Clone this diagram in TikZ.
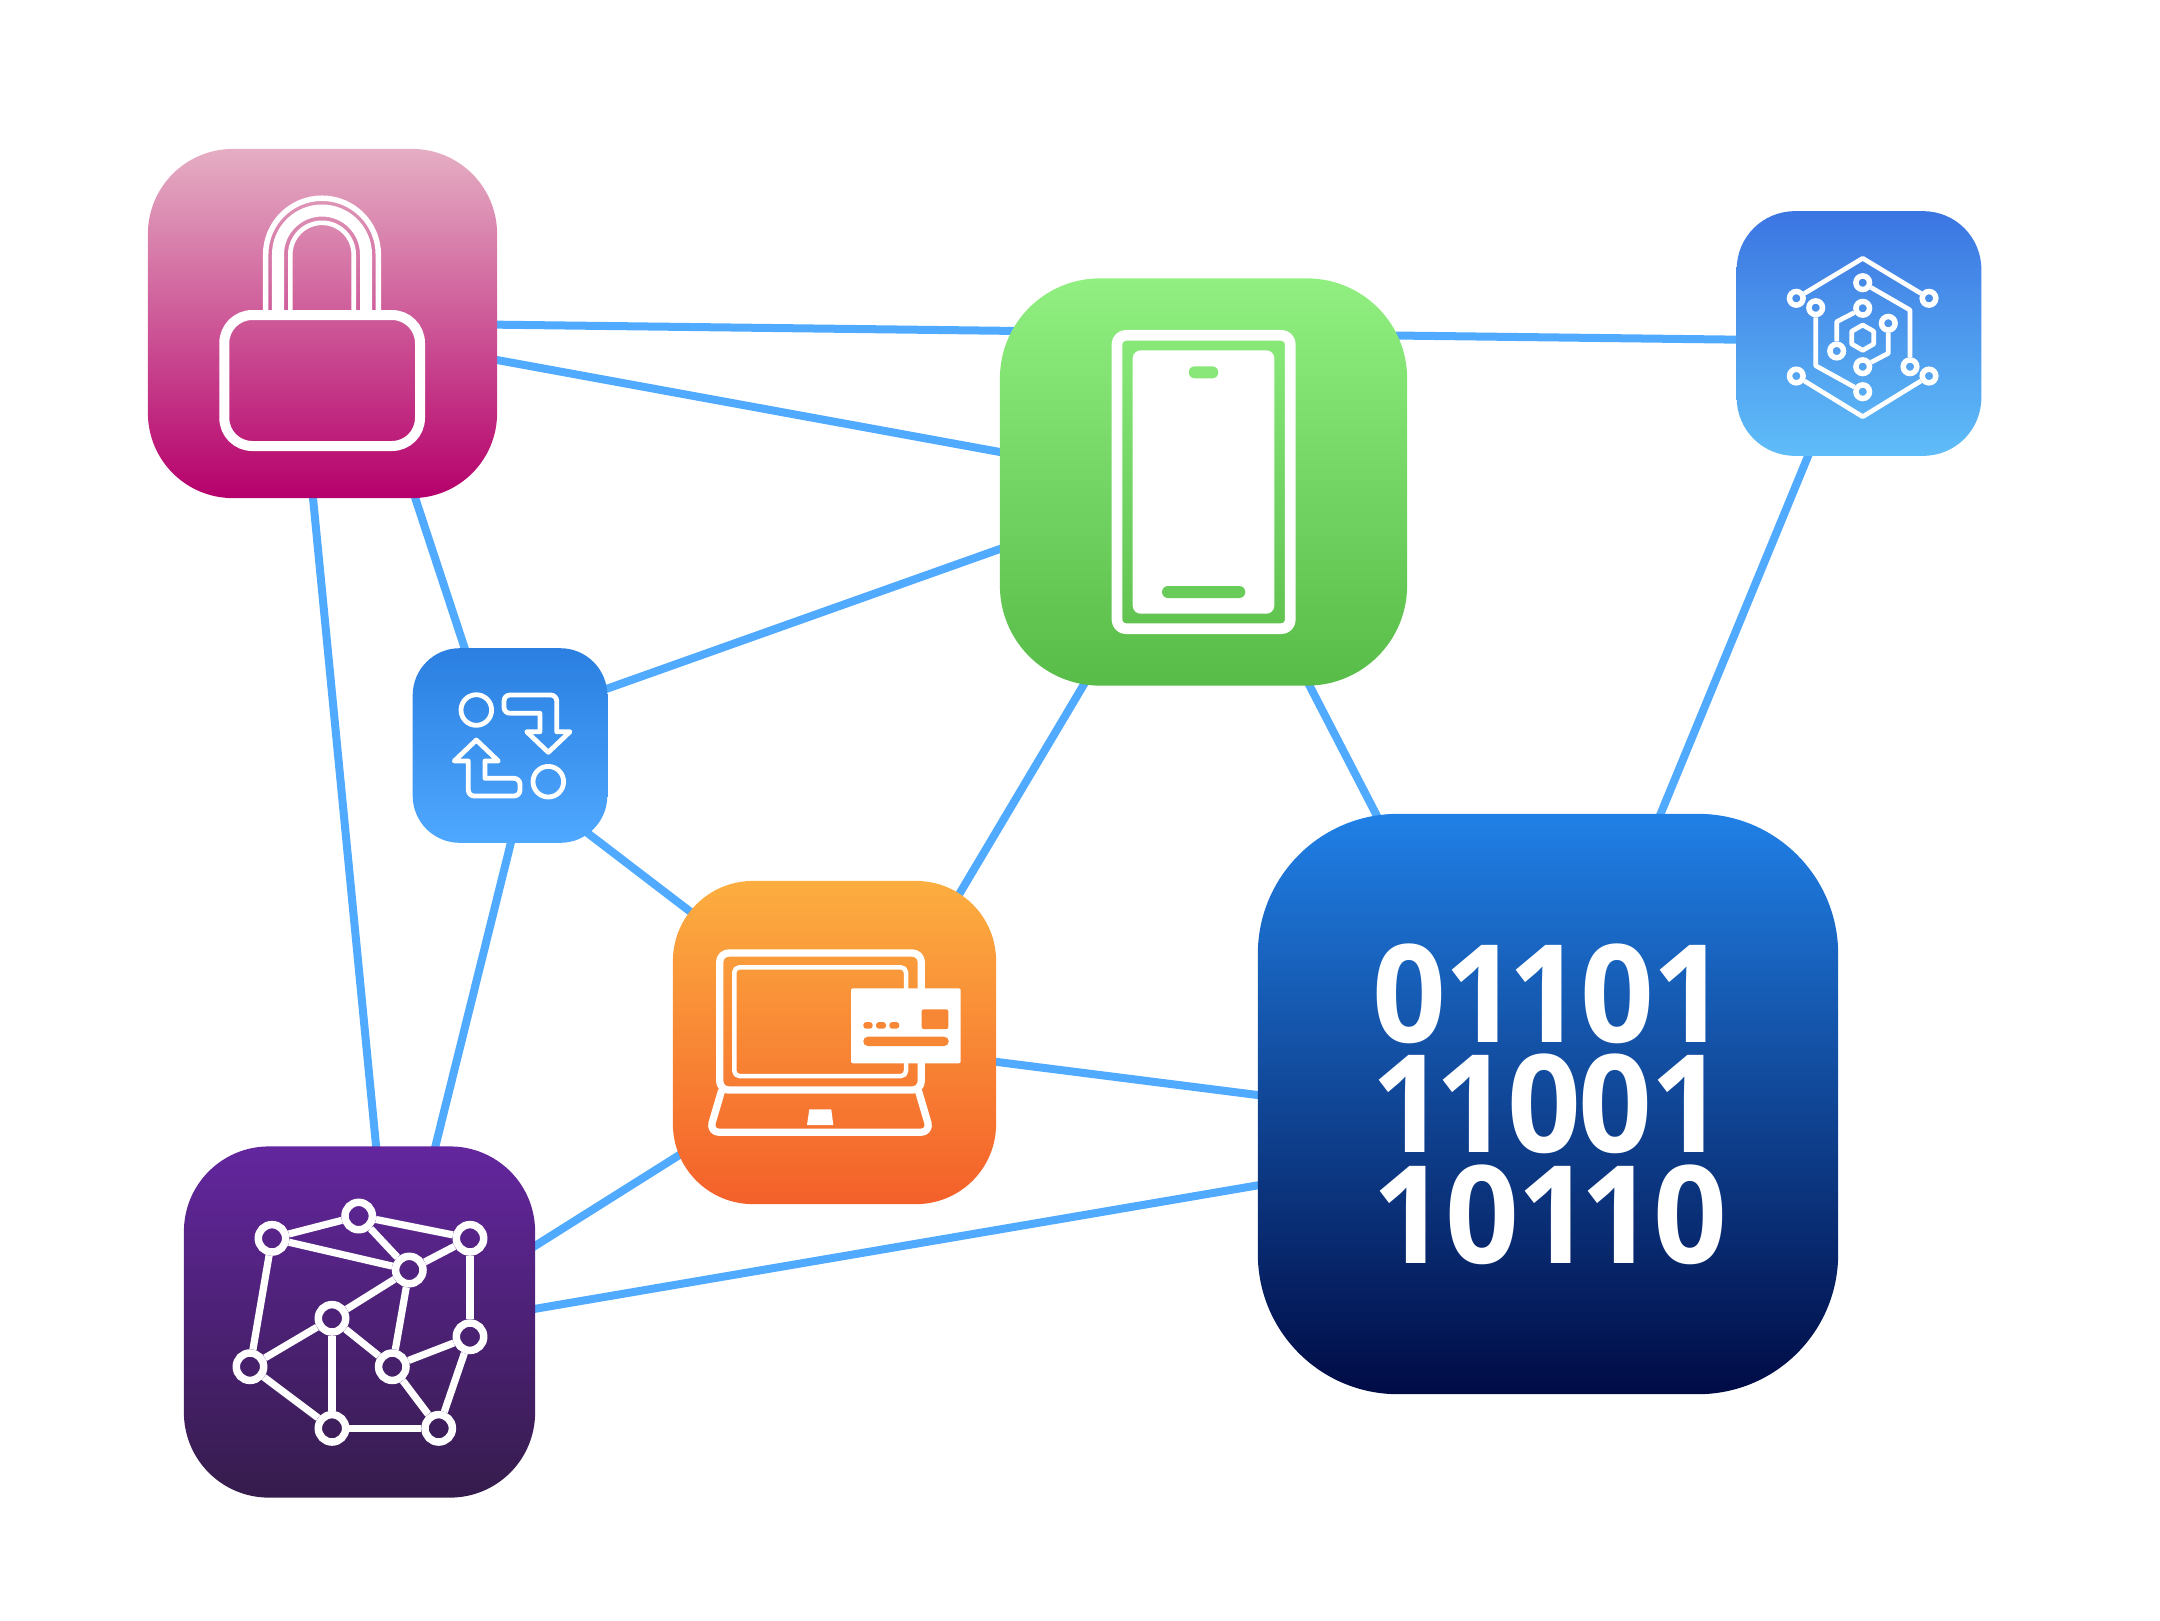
\documentclass[tikz,border=0pt]{standalone}
\usepackage{fontspec}
\usetikzlibrary{backgrounds}
\newfontfamily\binaryfont[LetterSpace=-7.7,FakeStretch=0.95]{Open Sans}
\newcommand{\zerodigit}{\kern-0.15mm 0\kern-0.15mm}

\definecolor{linkblue}{HTML}{50AAFF}
\definecolor{lockA}{HTML}{E5AEC3}
\definecolor{lockB}{HTML}{B5006B}
\definecolor{swapA}{HTML}{2A7FE0}
\definecolor{swapB}{HTML}{4FA8FF}
\definecolor{chipA}{HTML}{3B75E2}
\definecolor{chipB}{HTML}{5FBDF8}
\definecolor{phoneA}{HTML}{90EF80}
\definecolor{phoneB}{HTML}{58BC48}
\definecolor{laptopA}{HTML}{FCAE40}
\definecolor{laptopB}{HTML}{F4602A}
\definecolor{netA}{HTML}{63269E}
\definecolor{netB}{HTML}{351C4C}
\definecolor{binA}{HTML}{2080E6}
\definecolor{binB}{HTML}{000B45}

\tikzstyle{tile}=[inner sep=0pt,outer sep=0pt]
\tikzstyle{link}=[draw=linkblue,line width=0.8mm]
\tikzstyle{icon}=[draw=white,line join=round]
\tikzstyle{swapline}=[icon,line width=0.48mm]
\tikzstyle{chipline}=[icon,line width=0.47mm]
\tikzstyle{chipdot}=[circle,draw=white,line width=0.55mm,minimum size=1.36mm,inner sep=0pt]
\tikzstyle{netvertex}=[circle,draw=white,line width=0.75mm,minimum size=2.74mm,inner sep=0pt]
\tikzstyle{netedge}=[icon,line width=0.72mm]
\tikzstyle{digits}=[inner sep=0pt,text=white,font=\binaryfont\bfseries\fontsize{38.7}{38.7}\selectfont]

\begin{document}
\begin{tikzpicture}[x=0.01cm,y=-0.01cm]
    \useasboundingbox (0,0) rectangle (2160,1620);
    % First we draw the tiles
    \foreach \pos/\name/\size/\rad/\ctop/\cbot in {
        {(322.5,323.5)/lockbox/3.49/0.85/lockA/lockB},
        {(510,745.5)/swapbox/1.945/0.47/swapA/swapB},
        {(1859,333.5)/chipbox/2.445/0.58/chipA/chipB},
        {(1203.5,482)/phonebox/4.07/1.0/phoneA/phoneB},
        {(834.5,1042.5)/laptopbox/3.23/0.8/laptopA/laptopB},
        {(359.5,1322)/netbox/3.51/0.85/netA/netB},
        {(1548,1104)/binbox/5.8/1.4/binA/binB}}
        \node[tile,minimum size=\size cm,rounded corners=\rad cm,top color=\ctop,bottom color=\cbot] (\name) at \pos {};

    % Connect the tiles, behind them
    \begin{scope}[on background layer]
        \foreach \source/\ax/\ay/\dest/\bx/\by in {
            lockbox/144.5/0.8/chipbox/-92/6.5,
            lockbox/144.5/31/phonebox/-173.5/-24.5,
            lockbox/-12.5/143.5/netbox/19.5/-146,
            lockbox/83.5/146.5/swapbox/-35.5/-67.5,
            swapbox/68/-46.5/phonebox/-175.5/57,
            swapbox/54/69.5/laptopbox/-121.5/-113.5,
            swapbox/8/68.5/netbox/68.5/-146,
            laptopbox/113.5/-129.5/phonebox/-104.5/177,
            phonebox/92.5/177.5/binbox/-156.5/-260,
            chipbox/-39/93.5/binbox/101/-262,
            laptopbox/131.5/15.5/binbox/-259/-5,
            laptopbox/-134.5/99.5/netbox/152.5/-61.6,
            netbox/147.5/-8.4/binbox/-259/76}
            \path[link] ([shift={(\ax,\ay)}]\source.center) -- ([shift={(\bx,\by)}]\dest.center);
    \end{scope}

    % Padlock
    \foreach \r/\w in {56.3/0.55mm,44/1.2mm,31.7/0.46mm}
        \draw[icon,line width=\w] ({322-\r},312) -- ({322-\r},254.5) arc[start angle=180,end angle=360,radius=\r] -- ({322+\r},312);
    \draw[icon,line width=1mm,rounded corners=2.8mm] (224.3,315) rectangle (420,446);

    % Swap arrows
    \node[circle,draw=white,line width=0.48mm,minimum size=3.06mm,inner sep=0pt] (swapa) at (476.3,710) {};
    \node[circle,draw=white,line width=0.48mm,minimum size=3.06mm,inner sep=0pt] (swapb) at (548.3,781.7) {};
    \draw[swapline] [rounded corners=0.6mm] (510,713.3) -- (504,713.3) -- (504,695) -- (556.7,695) [sharp corners] -- (556.7,731.7) -- (570,731.7) -- (548.3,752.3) -- (526.7,731.7) -- (540,731.7) -- (540,713.3) -- (510,713.3);
    \draw[swapline] (476.3,740) -- (498.3,761) -- (485,761) -- (485,778.3) [rounded corners=0.6mm] -- (520,778.3) -- (520,796) -- (468.3,796) [sharp corners] -- (468.3,761) -- (454.3,761) -- cycle;

    % Circuit
    \foreach \pos/\name in {{(1796.3,298.3)/chipa},{(1815.7,307.7)/chipb},{(1862.7,282.7)/chipc},{(1929,298.3)/chipd},
        {(1862.7,308.3)/chipe},{(1888.3,323.3)/chipf},{(1836.7,351)/chipg},{(1862.7,366.7)/chiph},
        {(1910,366.7)/chipi},{(1796.3,376)/chipj},{(1929,376)/chipk},{(1862.7,391.7)/chipl}}
        \node[chipdot] (\name) at \pos {};
    \foreach \source/\corner/\dest in {chipa/{(1862.7,258.3)}/chipd,chipj/{(1862.7,416.7)}/chipk,chipb/{(1815.7,365.7)}/chipl,
        chipc/{(1910,310)}/chipi,chipe/{(1836.7,321.7)}/chipg,chipf/{(1888.3,353.3)}/chiph}
        \draw[chipline] (\source) -- \corner -- (\dest);
    \draw[chipline] (1862.7,325) -- (1873.7,331.3) -- (1873.7,344) -- (1862.7,350.3) -- (1851.7,344) -- (1851.7,331.3) -- cycle;

    % Phone
    \draw[icon,line width=1.07mm,rounded corners=0.9mm] (1117,335.3) rectangle (1290.3,628.7);
    \fill[white,rounded corners=0.8mm] (1132.7,350.3) rectangle (1274.3,613.7);
    \fill[phoneA!85!phoneB,rounded corners=0.6mm] (1188.7,366.3) rectangle (1218.3,378.3);
    \fill[phoneA!30!phoneB,rounded corners=0.6mm] (1162,586) rectangle (1245.3,598);

    % Laptop with card
    \draw[icon,line width=0.73mm,rounded corners=0.9mm] (719.7,953) rectangle (921.3,1090);
    \draw[icon,line width=0.45mm,rounded corners=0.5mm] (734.3,967.3) rectangle (906,1076);
    \draw[icon,line width=0.73mm,rounded corners=1mm] (721.7,1090.3) -- (709.3,1132.3) -- (930.7,1132.3) -- (918.3,1090.3);
    \fill[white] (809.3,1109.3) -- (831.3,1109.3) -- (833.3,1125) -- (807,1125) -- cycle;
    \fill[white,rounded corners=0.2mm] (851,988.3) rectangle (960.7,1063.3);
    \fill[laptopA!50!laptopB,rounded corners=0.2mm] (921.7,1009.3) rectangle (948.3,1029);
    \foreach \xa/\xb in {863.3/872.7,876/886,889.3/899.3}
        \fill[laptopA!50!laptopB,rounded corners=0.3mm] (\xa,1022) rectangle (\xb,1028.7);
    \fill[laptopA!50!laptopB,rounded corners=0.45mm] (863.3,1036.7) rectangle (948.7,1046);

    % Network
    \foreach \pos/\name in {{(272,1238.3)/neta},{(358.7,1216)/netb},{(470,1238.3)/netc},{(409.3,1270)/netd},{(332,1318.3)/nete},
        {(470,1336.7)/netf},{(250,1366.7)/netg},{(392.3,1366.7)/neth},{(332,1428.3)/neti},{(438.7,1428.3)/netj}}
        \node[netvertex] (\name) at \pos {};
    \foreach \source/\dest in {neta/netb,netb/netc,neta/netd,netb/netd,netc/netd,netd/nete,netd/neth,netc/netf,neta/netg,
        nete/netg,nete/neti,nete/neth,neth/netf,neth/netj,netf/netj,netg/neti,neti/netj}
        \path[netedge] (\source) -- (\dest);

    % Binary digits
    \node[digits] (binrowa) at (1550,994) {\zerodigit 11\zerodigit 1};
    \node[digits] (binrowb) at (1548,1104) {11\zerodigit\zerodigit 1};
    \node[digits] (binrowc) at (1549,1215) {1\zerodigit 11\zerodigit};
\end{tikzpicture}
\end{document}
